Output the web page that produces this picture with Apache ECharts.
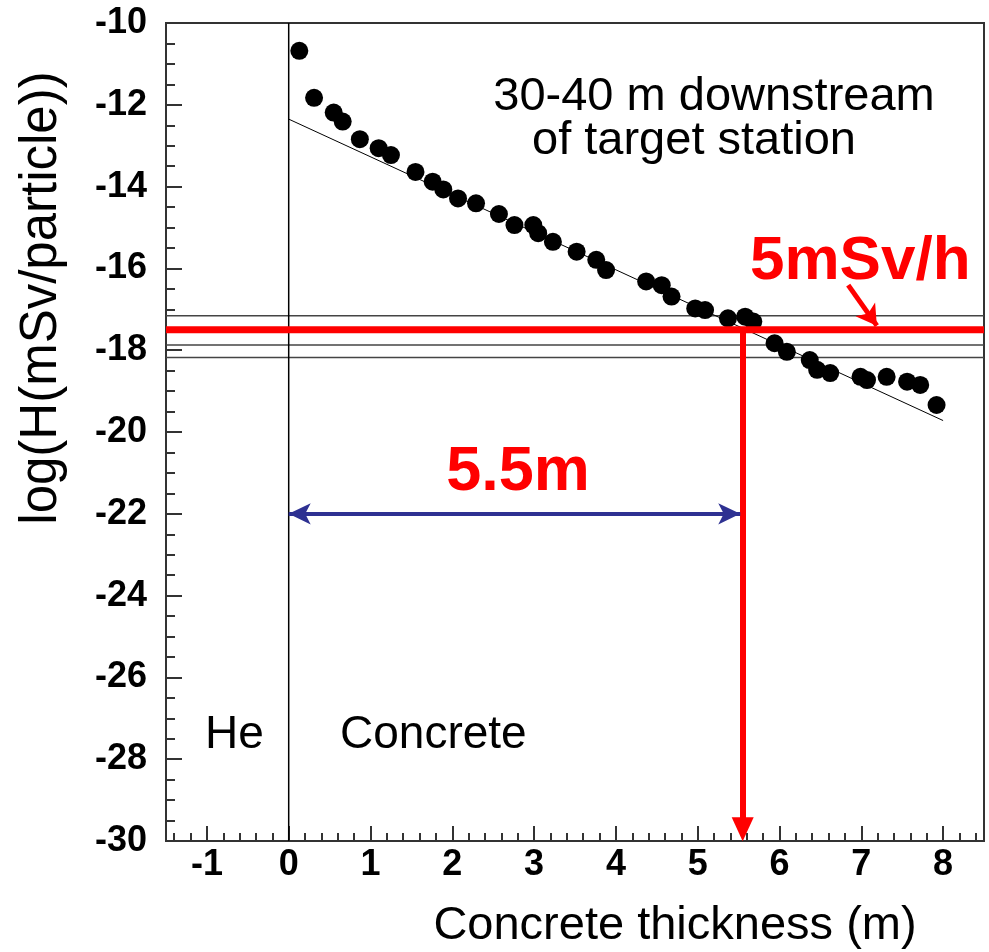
<!DOCTYPE html>
<html>
<head>
<meta charset="utf-8">
<script src="https://cdn.jsdelivr.net/npm/echarts@6/dist/echarts.min.js"></script>
<style>html,body{margin:0;padding:0;background:#fff;}#c{width:989px;height:952px;}</style>
</head>
<body>
<div id="c"></div>
<script>
// ---- data ----
var thickness = [0.13,0.31,0.55,0.66,0.87,1.10,1.25,1.55,1.76,1.89,2.07,2.29,2.57,2.76,2.99,3.05,3.23,3.52,3.76,3.88,4.37,4.56,4.68,4.97,5.09,5.37,5.58,5.68,5.94,6.09,6.37,6.46,6.62,6.99,7.07,7.31,7.56,7.72,7.92];
var logH = [-10.68,-11.83,-12.19,-12.41,-12.84,-13.06,-13.23,-13.64,-13.88,-14.07,-14.29,-14.41,-14.67,-14.94,-14.94,-15.14,-15.35,-15.59,-15.79,-16.04,-16.32,-16.41,-16.69,-16.98,-17.02,-17.22,-17.18,-17.30,-17.83,-18.04,-18.24,-18.48,-18.56,-18.65,-18.73,-18.65,-18.77,-18.85,-19.34];
var fitX = [0, 8];
var fitY = [-12.35, -19.72];
var levelLines = [-17.16, -17.87, -18.18];
var limitLevel = -17.5;
var limitThickness = 5.55;
var arrowY = -22;
var arrowX = [0, 5.52];
var xRange = [-1.5, 8.5];
var yRange = [-30, -10];
var xTickLabels = [-1,0,1,2,3,4,5,6,7,8];
var xMinorTicks = [];
for (var v = -14; v <= 84; v += 2) { if (v % 10 !== 0) xMinorTicks.push(v / 10); }

var FONT = "'Liberation Sans', Arial, Helvetica, sans-serif";
var chart = echarts.init(document.getElementById('c'));

function seg(x1, y1, x2, y2) { return [[x1, y1], [x2, y2]]; }
function lineSeries(data, color, width) {
  return { type: 'line', data: data, symbol: 'none', silent: true, animation: false,
    lineStyle: { color: color, width: width }, z: 2 };
}

var series = [];
levelLines.forEach(function (y) { series.push(lineSeries(seg(xRange[0], y, xRange[1], y), '#444', 1.5)); });
series.push(lineSeries(seg(0, yRange[0], 0, yRange[1]), '#000', 1.5));
series.push(lineSeries(seg(fitX[0], fitY[0], fitX[1], fitY[1]), '#000', 1));
series.push({ type: 'scatter', data: thickness.map(function (x, i) { return [x, logH[i]]; }),
  symbol: 'circle', symbolSize: 18, itemStyle: { color: '#000', opacity: 1 }, z: 5, animation: false });
series.push(lineSeries(seg(xRange[0], limitLevel, xRange[1], limitLevel), '#ff0000', 7));
series[series.length - 1].z = 6;
// arrows via markLine
series.push({ type: 'line', data: [], animation: false, z: 7,
  markLine: { silent: true, animation: false, label: { show: false },
    data: [
      [{ coord: [limitThickness, limitLevel], symbol: 'none', lineStyle: { color: '#ff0000', width: 6, type: 'solid' } },
       { coord: [limitThickness, yRange[0] + 0.29], symbol: 'triangle', symbolSize: [22, 24], symbolRotate: 180, itemStyle: { color: '#ff0000' } }],
      [{ coord: [arrowX[0], arrowY], symbol: 'arrow', symbolSize: [16, 22], lineStyle: { color: '#2e3192', width: 4, type: 'solid' }, itemStyle: { color: '#2e3192' } },
       { coord: [arrowX[1], arrowY], symbol: 'arrow', symbolSize: [16, 22], itemStyle: { color: '#2e3192' } }],
      [{ coord: [6.84, -16.41], symbol: 'none', lineStyle: { color: '#ff0000', width: 5, type: 'solid' } },
       { coord: [7.19, -17.40], symbol: 'arrow', symbolSize: [18, 20], itemStyle: { color: '#ff0000' } }]
    ]
  }
});

function txt(text, x, y, size, opts) {
  opts = opts || {};
  return { type: 'text', x: x, y: y, z: 10, silent: true, rotation: opts.rot || 0,
    style: { text: text, fontFamily: FONT, fontSize: size, fontWeight: opts.bold ? 'bold' : 'normal',
      fill: opts.color || '#000', align: opts.align || 'center', verticalAlign: 'middle' } };
}

chart.setOption({
  animation: false,
  backgroundColor: '#fff',
  grid: { left: 166, top: 23, right: 5, bottom: 111, show: true, borderColor: '#333', borderWidth: 2, backgroundColor: 'transparent' },
  xAxis: [
    { type: 'value', min: xRange[0], max: xRange[1], splitLine: { show: false },
      axisLine: { onZero: false, lineStyle: { color: '#333', width: 2 } },
      axisTick: { inside: true, length: 15, customValues: xTickLabels, lineStyle: { color: '#333', width: 2 } },
      axisLabel: { customValues: xTickLabels, margin: 6, fontFamily: FONT, fontSize: 36, fontWeight: 'bold', color: '#000' } },
    { type: 'value', min: xRange[0], max: xRange[1], position: 'bottom', splitLine: { show: false },
      axisLine: { show: false, onZero: false },
      axisTick: { inside: true, length: 8, customValues: xMinorTicks, lineStyle: { color: '#333', width: 2 } },
      axisLabel: { show: false } }
  ],
  yAxis: {
    type: 'value', min: yRange[0], max: yRange[1], interval: 2, splitLine: { show: false },
    axisLine: { onZero: false, lineStyle: { color: '#333', width: 2 } },
    axisTick: { inside: true, length: 16, lineStyle: { color: '#333', width: 2 } },
    minorTick: { show: true, splitNumber: 4, length: 9, lineStyle: { color: '#333', width: 2 } },
    axisLabel: { margin: 19, fontFamily: FONT, fontSize: 36, fontWeight: 'bold', color: '#000' }
  },
  graphic: [
    txt('30-40 m downstream', 714, 97, 47),
    txt('of target station', 694, 141, 47),
    txt('He', 205, 735, 46, { align: 'left' }),
    txt('Concrete', 340, 735, 46, { align: 'left' }),
    txt('5.5m', 518, 473, 63, { bold: true, color: '#ff0000' }),
    txt('5mSv/h', 750, 262, 62, { bold: true, color: '#ff0000', align: 'left' }),
    txt('Concrete thickness (m)', 675, 926, 47),
    txt('log(H(mSv/particle))', 42, 298, 51, { rot: Math.PI / 2 })
  ],
  series: series
});
</script>
</body>
</html>
